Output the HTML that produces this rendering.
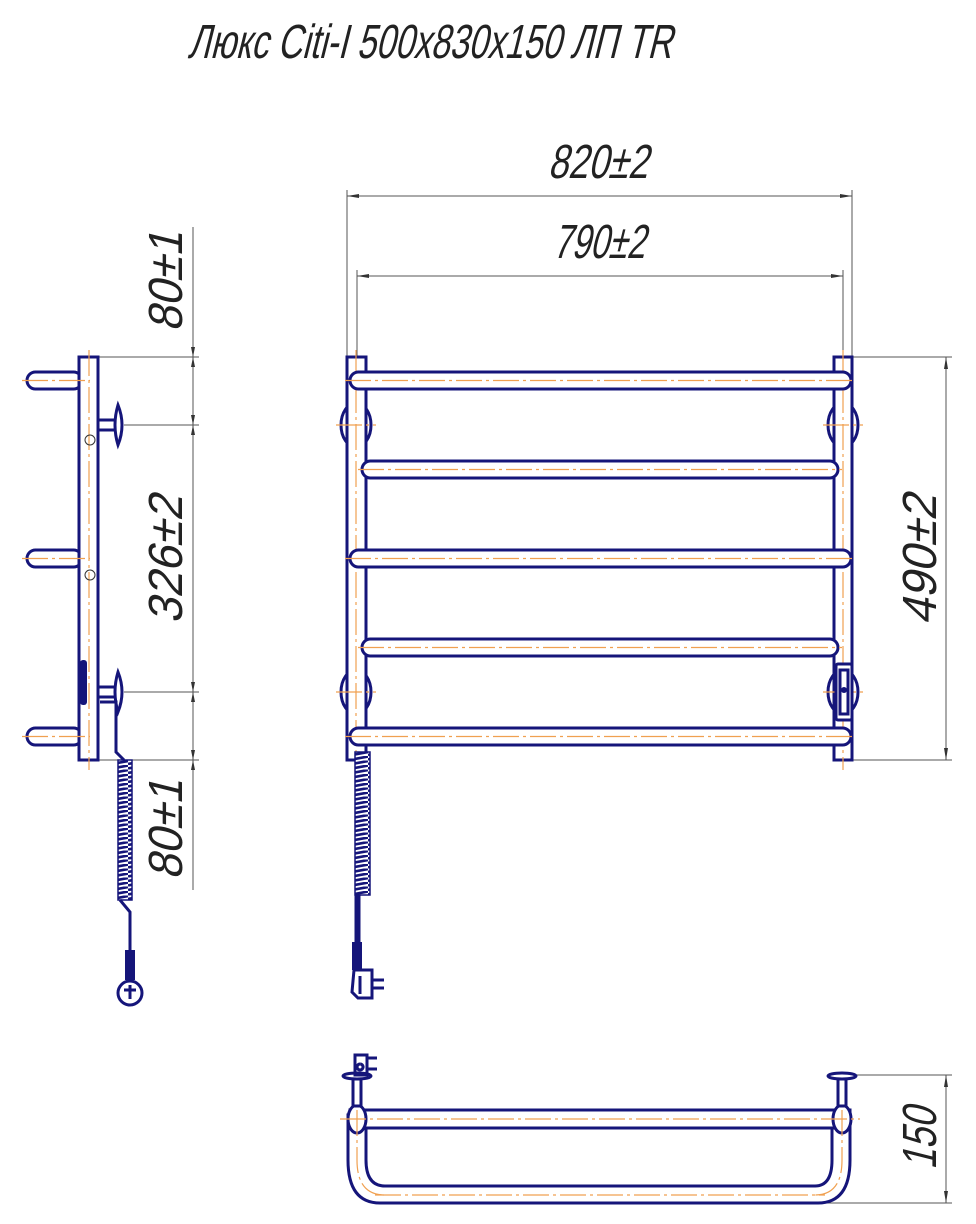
<!DOCTYPE html>
<html><head><meta charset="utf-8"><style>
html,body{margin:0;padding:0;background:#fff;}
svg{display:block;}
text{font-family:"Liberation Sans","Noto Sans CJK SC",sans-serif;fill:#222;}
</style></head><body>
<svg width="976" height="1224" viewBox="0 0 976 1224" xmlns="http://www.w3.org/2000/svg">
<defs>
<style>
.b{fill:#fff;stroke:#15157a;stroke-width:3}
.bn{fill:none;stroke:#15157a;stroke-width:3}
.c{stroke:#f0a050;stroke-width:1.2;stroke-dasharray:26 4 3 4;fill:none}
.d{stroke:#555;stroke-width:1;fill:none}
</style>
<pattern id="coil" width="16" height="4.5" patternUnits="userSpaceOnUse">
<rect width="16" height="4.5" fill="#fff"/>
<path d="M0 3.5 L16 0.5" stroke="#15157a" stroke-width="2.6"/>
</pattern>
</defs>
<!-- Title -->
<text x="188" y="58" font-size="48" textLength="484" lengthAdjust="spacingAndGlyphs" transform="skewX(-14) translate(14,0)">Люкс Citi-I 500x830x150 ЛП TR</text>

<!-- Dimension 820 -->
<line class="d" x1="347" y1="190" x2="347" y2="357"/>
<line class="d" x1="852" y1="190" x2="852" y2="357"/>
<line class="d" x1="347" y1="196" x2="852" y2="196"/>
<path d="M347 196 l12 -2 v4z M852 196 l-12 -2 v4z" fill="#333"/>
<text x="548" y="178" font-size="48" textLength="100" lengthAdjust="spacingAndGlyphs" transform="skewX(-14) translate(44,0)">820±2</text>
<!-- Dimension 790 -->
<line class="d" x1="357" y1="270" x2="357" y2="375"/>
<line class="d" x1="843" y1="270" x2="843" y2="375"/>
<line class="d" x1="357" y1="276" x2="843" y2="276"/>
<path d="M357 276 l12 -2 v4z M843 276 l-12 -2 v4z" fill="#333"/>
<text x="553" y="258" font-size="48" textLength="92" lengthAdjust="spacingAndGlyphs" transform="skewX(-14) translate(64,0)">790±2</text>
<!-- Dimension 490 -->
<line class="d" x1="852" y1="357" x2="952" y2="357"/>
<line class="d" x1="852" y1="760" x2="952" y2="760"/>
<line class="d" x1="946" y1="357" x2="946" y2="760"/>
<path d="M946 357 l-2 12 h4z M946 760 l-2 -12 h4z" fill="#333"/>
<text transform="translate(936,560) rotate(-90) skewX(-14)" font-size="48" text-anchor="middle" textLength="130" lengthAdjust="spacingAndGlyphs">490±2</text>

<!-- Front view brackets -->
<ellipse class="b" cx="356" cy="425" rx="15" ry="22"/>
<ellipse class="b" cx="843" cy="425" rx="15" ry="22"/>
<ellipse class="b" cx="356" cy="692" rx="15" ry="22"/>
<ellipse class="b" cx="843" cy="692" rx="15" ry="22"/>
<rect class="b" x="347" y="357" width="19" height="403"/>
<rect class="b" x="834" y="357" width="18" height="403"/>
<line class="c" x1="356" y1="350" x2="356" y2="770"/>
<line class="c" x1="843" y1="350" x2="843" y2="770"/>
<rect class="b" x="350" y="372" width="501" height="17" rx="8.5"/>
<rect class="b" x="362" y="461" width="476" height="17" rx="8.5"/>
<rect class="b" x="350" y="550" width="501" height="17" rx="8.5"/>
<rect class="b" x="362" y="639" width="476" height="17" rx="8.5"/>
<rect class="b" x="350" y="728" width="501" height="17" rx="8.5"/>
<g class="c"><line x1="345" y1="380.5" x2="856" y2="380.5"/><line x1="358" y1="469.5" x2="842" y2="469.5"/><line x1="345" y1="558.5" x2="856" y2="558.5"/><line x1="358" y1="647.5" x2="842" y2="647.5"/><line x1="345" y1="736.5" x2="856" y2="736.5"/>
<line x1="336" y1="425" x2="376" y2="425"/><line x1="823" y1="425" x2="863" y2="425"/><line x1="336" y1="692" x2="376" y2="692"/><line x1="823" y1="692" x2="863" y2="692"/></g>
<rect class="b" x="836" y="664" width="16" height="56" rx="2"/>
<rect class="bn" x="840" y="670" width="8" height="44" stroke-width="1.5"/>
<circle cx="844" cy="690" r="3" fill="#15157a"/>
<!-- front cord -->
<rect x="355" y="752" width="15" height="143" fill="url(#coil)" stroke="#15157a" stroke-width="1.5"/>
<path d="M356 895 v48 M359 895 v48" class="bn" stroke-width="1.5"/>
<rect x="352" y="942" width="10" height="28" fill="#15157a"/>
<path class="bn" stroke-width="2" d="M354 970 h18 v28 h-14 l-6 -6z M372 980 h12 M372 988 h12 M360 976 v18"/>

<!-- Side view -->
<line class="d" x1="98" y1="357" x2="199" y2="357"/>
<line class="d" x1="124" y1="425" x2="199" y2="425"/>
<line class="d" x1="124" y1="692" x2="199" y2="692"/>
<line class="d" x1="98" y1="760" x2="199" y2="760"/>
<line class="d" x1="193" y1="227" x2="193" y2="890"/>
<path d="M193 357 l-2 -10 h4z M193 357 l-2 10 h4z M193 425 l-2 -10 h4z M193 425 l-2 10 h4z M193 692 l-2 -10 h4z M193 692 l-2 10 h4z M193 760 l-2 -10 h4z M193 760 l-2 10 h4z" fill="#333"/>
<text transform="translate(182,282) rotate(-90) skewX(-14)" font-size="48" text-anchor="middle" textLength="100" lengthAdjust="spacingAndGlyphs">80±1</text>
<text transform="translate(182,560) rotate(-90) skewX(-14)" font-size="48" text-anchor="middle" textLength="128" lengthAdjust="spacingAndGlyphs">326±2</text>
<text transform="translate(182,830) rotate(-90) skewX(-14)" font-size="48" text-anchor="middle" textLength="100" lengthAdjust="spacingAndGlyphs">80±1</text>
<rect class="b" x="27" y="372" width="55" height="17" rx="8.5"/>
<rect class="b" x="27" y="550" width="55" height="17" rx="8.5"/>
<rect class="b" x="27" y="728" width="55" height="17" rx="8.5"/>
<rect class="b" x="79" y="357" width="19" height="403"/>
<line class="c" x1="89" y1="350" x2="89" y2="770"/>
<g class="c"><line x1="22" y1="380.5" x2="90" y2="380.5"/><line x1="22" y1="558.5" x2="90" y2="558.5"/><line x1="22" y1="736.5" x2="90" y2="736.5"/></g>
<circle cx="90" cy="440" r="5" fill="none" stroke="#333" stroke-width="1"/>
<circle cx="90" cy="575" r="5" fill="none" stroke="#333" stroke-width="1"/>
<rect class="b" x="98" y="420" width="20" height="10"/>
<path class="b" d="M118 405 q8 20 0 40 q-6 -20 0 -40z"/>
<rect class="b" x="98" y="687" width="20" height="10"/>
<path class="b" d="M118 672 q8 20 0 40 q-6 -20 0 -40z"/>
<rect x="80" y="660" width="7" height="45" rx="3" fill="#15157a"/>
<path class="bn" stroke-width="2" d="M100 702 h16 v50 l8 8"/>
<rect x="118" y="760" width="14" height="140" fill="url(#coil)" stroke="#15157a" stroke-width="1.5"/>
<path class="bn" stroke-width="1.5" d="M120 900 l10 12 v40"/>
<rect x="125" y="950" width="10" height="30" fill="#15157a"/>
<circle class="b" cx="130" cy="993" r="12" stroke-width="2"/>
<path class="bn" stroke-width="1.5" d="M124 990 h12 M130 985 v14"/>

<!-- Top view -->
<line class="d" x1="840" y1="1075" x2="952" y2="1075"/>
<line class="d" x1="820" y1="1203" x2="952" y2="1203"/>
<line class="d" x1="946" y1="1075" x2="946" y2="1203"/>
<path d="M946 1075 l-2 12 h4z M946 1203 l-2 -12 h4z" fill="#333"/>
<text transform="translate(936,1139) rotate(-90) skewX(-14)" font-size="48" text-anchor="middle" textLength="62" lengthAdjust="spacingAndGlyphs">150</text>
<path class="b" d="M348 1115 V1160 Q348 1203 380 1203 H818 Q850 1203 850 1160 V1115 H832 V1160 Q832 1186 815 1186 H385 Q366 1186 366 1160 V1115 Z"/>
<rect class="b" x="350" y="1110" width="500" height="18"/>
<ellipse class="b" cx="357" cy="1119" rx="9" ry="14"/>
<ellipse class="b" cx="842" cy="1119" rx="9" ry="14"/>
<rect class="b" x="353" y="1078" width="8" height="28" stroke-width="2"/>
<rect class="b" x="838" y="1078" width="8" height="28" stroke-width="2"/>
<ellipse class="b" cx="357" cy="1076" rx="14" ry="3"/>
<ellipse class="b" cx="842" cy="1076" rx="14" ry="3"/>
<path class="bn" stroke-width="2" d="M355 1055 h12 v20 h-12z M367 1058 h10 M367 1069 h10 M360 1064 a3 3 0 1 0 0.1 0"/>
<g class="c"><line x1="340" y1="1119" x2="860" y2="1119"/><line x1="375" y1="1195" x2="825" y2="1195"/><path d="M357 1110 V1160 Q357 1195 385 1195 M842 1110 V1160 Q842 1195 815 1195"/></g>
</svg>
</body></html>
